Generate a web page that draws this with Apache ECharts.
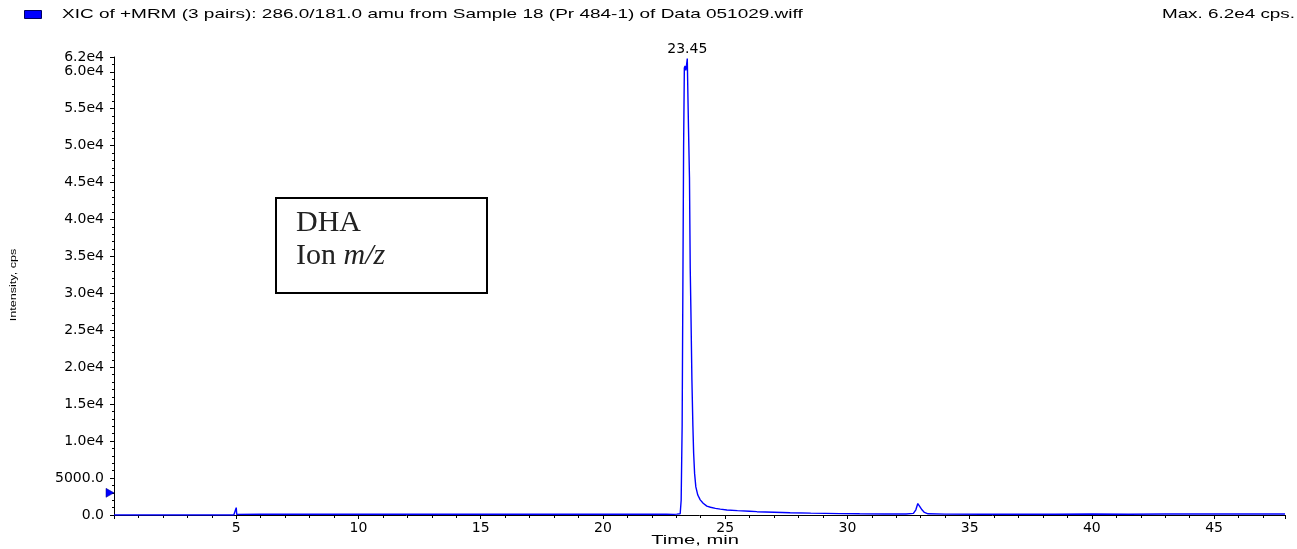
<!DOCTYPE html>
<html>
<head>
<meta charset="utf-8">
<script src="https://cdn.jsdelivr.net/npm/echarts@6/dist/echarts.min.js"></script>
<style>
  html, body { margin: 0; padding: 0; background: #fff; }
  #grafico { width: 1297px; height: 549px; }
</style>
</head>
<body>
<div id="grafico"></div>
<script>
// dados do cromatograma (tempo em min, intensidade em cps)
var tempos = [
    0.0, 2.0, 4.9, 4.98, 5.0, 5.02, 5.1, 6.0, 7.5, 9.0, 10.5, 12.0, 13.5, 15.0, 16.5, 18.0, 19.5, 21.0, 22.0, 22.6,
    22.9, 22.96, 23.02, 23.1, 23.16, 23.2, 23.24, 23.27, 23.3, 23.33, 23.36, 23.39, 23.42, 23.45, 23.48,
    23.5, 23.54, 23.57, 23.6, 23.64, 23.68, 23.71, 23.75, 23.8, 23.88, 23.98, 24.1, 24.25, 24.4, 24.6,
    24.8, 25.07, 25.5, 26.0, 26.3, 27.0, 27.66, 28.5, 29.7, 30.5, 31.5, 32.4, 32.7, 32.8, 32.88,
    32.95, 33.05, 33.15, 33.3, 34.0, 35.5, 37.0, 38.5, 40.0, 41.5, 43.0, 44.5, 46.0, 47.9
];
var intensidades = [
    0, 0, 0, 60, 1000, 80, 90, 100, 110, 100, 120, 110, 100, 120, 110, 100, 110, 120, 110, 100,
    90, 230, 120, 70, 160, 2000, 12000, 31000, 50000, 60500, 60800, 60200, 60900, 61800, 56000,
    52400, 45700, 33500, 27300, 18200, 12000, 8400, 5600, 3800, 2700, 2050, 1600, 1200, 1050, 900,
    800, 680, 590, 510, 450, 380, 310, 250, 190, 160, 140, 130, 220, 700, 1550,
    1200, 700, 350, 160, 120, 110, 120, 100, 130, 110, 140, 130, 150, 140
];
var picoTempo = 23.45;
var picoValor = 61800;
var limiar = 3000;
var ticksY = { intervalo: 5000, max: 62000 };
var ticksX = { intervalo: 5, max: 47.9 };

var nomeSerie = "XIC of +MRM (3 pairs): 286.0/181.0 amu from Sample 18 (Pr 484-1) of Data 051029.wiff";

var pontos = tempos.map((t, i) => [t, intensidades[i]]);

function formatarY(v) {
    if (v === 0) return "0.0";
    if (v < 10000) return v.toFixed(1);
    return (v / 10000).toFixed(1) + "e4";
}

// fonte "esticada" como no software original
const fonteSans = "Liberation Sans, Arial, sans-serif";
const fonteEixo = "DejaVu Sans, sans-serif";
const fonteSerif = "Liberation Serif, Times New Roman, serif";

var myChart = echarts.init(document.getElementById("grafico"));

var option = {
    animation: false,
    backgroundColor: "#fff",
    legend: {
        left: 24,
        top: 10,
        padding: 0,
        icon: "rect",
        itemWidth: 17,
        itemHeight: 8,
        selectedMode: false,
        itemStyle: { borderColor: "#000060", borderWidth: 1 },
        formatter: () => "",
        data: [nomeSerie]
    },
    grid: { left: 114, right: 12, top: 57, bottom: 34, outerBoundsMode: "none", containLabel: false },
    xAxis: {
        type: "value",
        min: 0,
        max: ticksX.max,
        interval: ticksX.intervalo,
        axisLine: { lineStyle: { color: "#000", width: 1 } },
        axisTick: { length: 4, lineStyle: { color: "#000" } },
        minorTick: { show: true, splitNumber: 5, length: 3, lineStyle: { color: "#000" } },
        splitLine: { show: false },
        axisLabel: {
            fontFamily: fonteEixo,
            fontSize: 14,
            color: "#000",
            margin: 6,
            formatter: v => (v > 0 && v % 5 === 0) ? String(v) : ""
        }
    },
    yAxis: {
        type: "value",
        min: 0,
        max: ticksY.max,
        interval: ticksY.intervalo,
        axisLine: { show: true, lineStyle: { color: "#000", width: 1 } },
        axisTick: { show: true, length: 4, lineStyle: { color: "#000" } },
        minorTick: { show: true, splitNumber: 5, length: 2, lineStyle: { color: "#000" } },
        splitLine: { show: false },
        axisLabel: {
            fontFamily: fonteEixo,
            fontSize: 14,
            color: "#000",
            margin: 10,
            showMaxLabel: true,
            formatter: formatarY
        }
    },
    series: [
        {
            name: nomeSerie,
            type: "line",
            data: pontos,
            showSymbol: false,
            symbol: "none",
            color: "#0000ff",
            lineStyle: { color: "#0000ff", width: 1.4 },
            z: 3,
            markPoint: {
                silent: true,
                data: [
                    {
                        coord: [picoTempo, picoValor],
                        symbol: "circle",
                        symbolSize: 1,
                        itemStyle: { color: "transparent" },
                        label: {
                            show: true,
                            position: "top",
                            distance: 2,
                            formatter: picoTempo.toFixed(2),
                            fontFamily: fonteEixo,
                            fontSize: 14,
                            color: "#000"
                        }
                    },
                    {
                        coord: [0, limiar],
                        symbol: "triangle",
                        symbolSize: [9, 8],
                        symbolRotate: -90,
                        symbolOffset: [-4, 0],
                        itemStyle: { color: "#0000ff", borderColor: "#000080", borderWidth: 0.5 },
                        label: { show: false }
                    }
                ]
            }
        }
    ],
    graphic: [
        {
            type: "text",
            x: 62,
            y: 14,
            scaleX: 1.46,
            style: { text: nomeSerie, fontFamily: fonteSans, fontSize: 13, fill: "#000", verticalAlign: "middle" }
        },
        {
            type: "text",
            x: 1295,
            y: 14,
            scaleX: 1.45,
            style: { text: "Max. 6.2e4 cps.", fontFamily: fonteSans, fontSize: 13, fill: "#000", align: "right", verticalAlign: "middle" }
        },
        {
            type: "text",
            x: 695,
            y: 540,
            scaleX: 1.55,
            style: { text: "Time, min", fontFamily: fonteSans, fontSize: 13, fill: "#000", align: "center", verticalAlign: "middle" }
        },
        {
            type: "text",
            x: 14,
            y: 285,
            rotation: Math.PI / 2,
            scaleX: 1.4,
            style: { text: "Intensity, cps", fontFamily: fonteSans, fontSize: 9, fill: "#000", align: "center", verticalAlign: "middle" }
        },
        {
            type: "rect",
            left: 275,
            top: 197,
            shape: { width: 211, height: 95 },
            style: { fill: "#fff", stroke: "#000", lineWidth: 2 },
            z: 10
        },
        {
            type: "text",
            x: 296,
            y: 207,
            z: 11,
            style: {
                text: "{a|DHA}\n{a|Ion }{b|m/z}",
                rich: {
                    a: { fontFamily: fonteSerif, fontSize: 30, lineHeight: 33, fill: "#222" },
                    b: { fontFamily: fonteSerif, fontSize: 30, fontStyle: "italic", lineHeight: 33, fill: "#222" }
                }
            }
        }
    ]
};

myChart.setOption(option);
</script>
</body>
</html>
